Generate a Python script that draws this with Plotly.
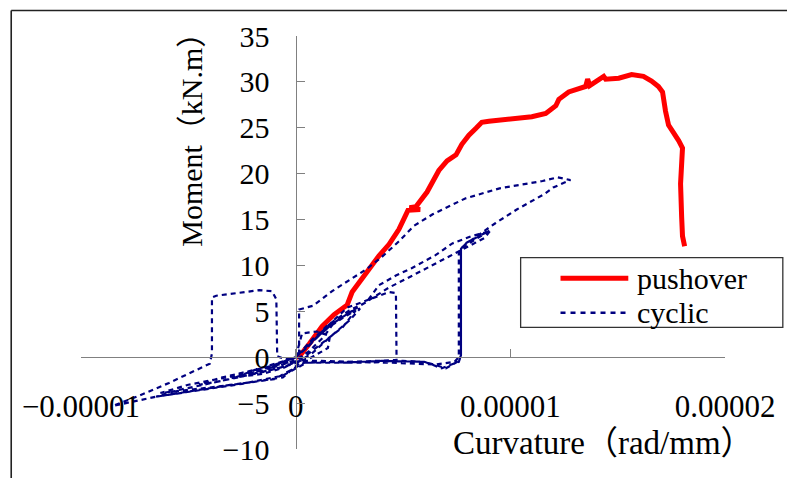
import numpy as np
import plotly.graph_objects as go

# ---------------- data (curvature stored in 1e-6 rad/mm, moment in kN.m) ----------------
push_curv_e6 = [0.0, 0.16, 0.63, 1.23, 1.79, 2.40, 2.63, 2.95, 3.28, 3.88, 4.35, 4.81,
                5.23, 5.8, 5.3, 5.6, 6.12, 6.67, 7.05, 7.47, 7.74, 8.07, 8.4, 8.67, 9.0,
                9.47, 10.2, 11.0, 11.65, 11.93, 12.12, 12.26, 12.72, 13.51, 13.6, 13.7,
                14.35, 14.44, 15.05, 15.65, 16.2, 16.58, 16.9, 17.09, 17.14, 17.23, 17.37,
                17.65, 17.84, 18.02, 17.98, 17.93, 17.98, 18.02, 18.12]
push_moment = [0.0, 0.05, 1.44, 3.37, 4.65, 5.7, 7.1, 8.17, 9.24, 11.06, 12.3, 13.94,
               16.0, 16.1, 16.3, 16.4, 18.0, 20.35, 21.4, 22.05, 23.2, 24.2, 24.95, 25.6, 25.7,
               25.8, 25.9, 26.2, 26.55, 27.1, 27.4, 28.1, 28.9, 29.5, 30.3, 29.6,
               30.6, 30.3, 30.4, 30.8, 30.6, 30.1, 29.5, 28.9, 27.8, 26.8, 25.3,
               24.4, 23.6, 22.8, 21.7, 18.9, 15.3, 13.2, 12.1]

# cyclic test, one list pair per group of cycles
cyc1_curv_e6 = [0.0, 0.5, 1.2, 1.8, 1.3, 0.6, 0.0, -0.6, -1.2, -0.6, 0.0,
                0.3, 1.0, 1.6, 1.5, 0.6, -0.4, -1.0, -0.3, 0.0,
                0.6, 1.3, 2.0, 2.6, 3.0, 2.5, 1.6, 0.8, 0.2, -0.8, -1.6, -2.2, -1.2, -0.4, 0.0,
                0.7, 1.5, 2.2, 2.8, 2.2, 1.4, 0.5, -0.5, -1.5, -2.8, -1.8, -0.8, 0.0]
cyc1_moment = [0.0, 1.0, 2.6, 3.8, 2.2, 0.6, -0.3, -0.8, -1.2, -0.5, 0.0,
               2.6, 2.8, 2.3, 1.0, -0.2, -0.6, -0.9, -0.2, 0.0,
               1.2, 2.9, 4.1, 5.0, 5.3, 4.0, 2.2, 0.5, -0.4, -1.2, -1.6, -1.9, -1.0, -0.3, 0.0,
               1.6, 3.2, 4.3, 5.1, 3.3, 1.8, 0.2, -1.1, -1.8, -2.2, -1.3, -0.6, 0.0]

cyc2_curv_e6 = [0.5, 1.4, 2.4, 3.1, 3.8, 4.35, 4.67, 4.67, 4.67, 4.7, 3.8, 2.5, 1.2, 0.3,
                -0.5, -1.5, -2.5, -3.5, -4.5, -3.6, -2.5, -1.2, -0.3, 0.0]
cyc2_moment = [1.0, 3.2, 5.4, 6.0, 6.6, 7.1, 7.0, 3.5, 0.1, -0.3, -0.4, -0.5, -0.4, -0.4,
               -1.0, -1.6, -2.1, -2.6, -3.0, -2.3, -1.7, -1.0, -0.3, 0.0]

cyc3_curv_e6 = [0.6, 1.5, 2.5, 3.3, 3.88, 4.67, 5.4, 6.5, 7.3, 8.2, 9.0, 8.7, 7.9, 7.7, 7.7,
                7.6, 7.0, 6.7, 6.0, 5.0, 3.0, 1.0, 0.2, -0.6, -2.0, -4.0, -6.3, -5.0, -3.0, -1.0, 0.0,
                0.8, 1.8, 2.8, 3.6, 4.35, 5.2, 6.2, 7.2, 8.0, 8.8, 9.1, 8.6, 7.8, 7.6, 7.6, 7.4,
                6.5, 4.5, 2.0, 0.4, -1.0, -3.0, -5.0, -6.5, -5.5, -3.5, -1.5, -0.3, 0.0]
cyc3_moment = [1.5, 3.5, 5.1, 6.0, 7.85, 8.9, 9.7, 11.1, 12.4, 13.2, 13.7, 13.4, 12.4, 11.8, 0.2,
               -0.4, -1.2, -1.0, -0.5, -0.4, -0.6, -0.5, -0.6, -2.2, -2.7, -3.3, -3.9, -3.0, -2.1, -0.9, 0.0,
               2.0, 3.9, 5.3, 6.5, 7.6, 8.6, 9.8, 11.0, 12.0, 13.0, 13.9, 13.2, 12.0, 11.5, 0.0, -0.5,
               -0.8, -0.6, -0.5, -0.6, -2.4, -3.0, -3.7, -4.3, -3.6, -2.6, -1.4, -0.4, 0.0]

cyc4_curv_e6 = [0.16, 0.16, 0.8, 1.7, 2.5, 3.3, 4.0, 4.8, 5.5, 6.4, 7.9, 9.5, 11.5, 12.2, 12.8,
                12.0, 11.6, 10.3, 9.3, 8.6, 7.9, 7.7, 7.7, 7.6, 6.8, 6.0, 4.0, 2.0, 0.5,
                -0.6, -2.5, -4.5, -6.5, -8.5, -7.3, -5.9, -4.0, -3.9, -3.9, -3.7, -1.7, -1.1,
                -0.9, -0.86, -0.5, 0.0]
cyc4_moment = [0.3, 5.2, 5.6, 7.2, 8.4, 9.6, 10.9, 12.6, 14.3, 15.6, 17.3, 18.4, 19.2, 19.6, 19.3,
               18.5, 17.8, 16.1, 14.6, 13.4, 12.3, 11.8, 0.2, -0.5, -1.2, -0.5, -0.4, -0.6, -0.6,
               -2.0, -2.9, -3.6, -4.3, -5.3, -4.2, -2.8, -0.7, 0.4, 6.5, 6.7, 7.3, 7.2,
               6.3, 0.1, -0.2, 0.0]

x_tick_vals = [-1e-5, 0.0, 1e-5, 2e-5]
x_tick_text = ["\u22120.00001", "0", "0.00001", "0.00002"]
y_tick_vals = [-10, -5, 0, 5, 10, 15, 20, 25, 30, 35]

series_names = ["pushover", "cyclic"]
x_title = "Curvature\uff08rad/mm\uff09"
y_title = "Moment\uff08kN.m\uff09"

# ---------------- figure ----------------
FONT = "Liberation Serif, Noto Sans CJK SC, serif"
W, H = 787, 478
ML, MR, MT, MB = 81, 60, 36, 21
PW, PH = W - ML - MR, H - MT - MB


def px(xpix):
    return (xpix - ML) / PW


def py(ypix):
    return (H - MB - ypix) / PH


push_x = np.array(push_curv_e6) * 1e-6
cyc_x = np.array(cyc1_curv_e6 + cyc2_curv_e6 + cyc3_curv_e6 + cyc4_curv_e6) * 1e-6
cyc_y = cyc1_moment + cyc2_moment + cyc3_moment + cyc4_moment

fig = go.Figure()
fig.add_trace(go.Scatter(x=push_x, y=push_moment, mode="lines", name=series_names[0],
                         line=dict(color="#ff0000", width=5), showlegend=False))
fig.add_trace(go.Scatter(x=cyc_x, y=cyc_y, mode="lines", name=series_names[1],
                         line=dict(color="#000080", width=2.2, dash="5px,4px"), showlegend=False))

axis_col = "#808080"
fig.update_layout(
    width=W, height=H,
    margin=dict(l=ML, r=MR, t=MT, b=MB, pad=0),
    paper_bgcolor="white", plot_bgcolor="white",
    font=dict(family=FONT, color="black", size=29),
    xaxis=dict(range=[-1e-5, 2e-5], anchor="free", position=10 / 45,
               showgrid=False, zeroline=False, showline=True, linecolor=axis_col, linewidth=1.3,
               ticks="inside", ticklen=8, tickcolor=axis_col, tickwidth=1.3,
               tickvals=x_tick_vals, ticktext=x_tick_text, ticklabelstandoff=21,
               tickfont=dict(size=31)),
    yaxis=dict(range=[-10, 35], anchor="free", position=1 / 3,
               showgrid=False, zeroline=False, showline=True, linecolor=axis_col, linewidth=1.3,
               ticks="inside", ticklen=8, tickcolor=axis_col, tickwidth=1.3,
               tickvals=y_tick_vals, ticklabelstandoff=20, tickfont=dict(size=30)),
    showlegend=False,
)

shapes = [
    # outer chart frame (top and left edges visible)
    dict(type="line", xref="paper", yref="paper", x0=px(11), x1=px(800), y0=py(10), y1=py(10),
         line=dict(color="#222222", width=1.6)),
    dict(type="line", xref="paper", yref="paper", x0=px(11), x1=px(11), y0=py(10), y1=py(490),
         line=dict(color="#222222", width=1.6)),
    # legend box
    dict(type="rect", xref="paper", yref="paper", x0=px(522), x1=px(785), y0=py(333), y1=py(262),
         line=dict(color="#333333", width=1.3), fillcolor="white", layer="above"),
    dict(type="line", xref="paper", yref="paper", x0=px(562), x1=px(630), y0=py(283), y1=py(283),
         line=dict(color="#ff0000", width=5), layer="above"),
    dict(type="line", xref="paper", yref="paper", x0=px(562), x1=px(630), y0=py(318), y1=py(318),
         line=dict(color="#000080", width=2.5, dash="5px,5px"), layer="above"),
]
annotations = [
    dict(text=series_names[0], xref="paper", yref="paper", x=px(637), y=py(283),
         xanchor="left", yanchor="middle", showarrow=False, font=dict(size=30)),
    dict(text=series_names[1], xref="paper", yref="paper", x=px(637), y=py(318),
         xanchor="left", yanchor="middle", showarrow=False, font=dict(size=30)),
    dict(text=x_title, xref="paper", yref="paper", x=px(605), y=py(451),
         xanchor="center", yanchor="middle", showarrow=False, font=dict(size=33)),
    dict(text=y_title, xref="paper", yref="paper", x=px(191), y=py(134),
         xanchor="center", yanchor="middle", showarrow=False, textangle=-90, font=dict(size=30)),
]
fig.update_layout(shapes=shapes, annotations=annotations)

fig.write_html("out.html")
